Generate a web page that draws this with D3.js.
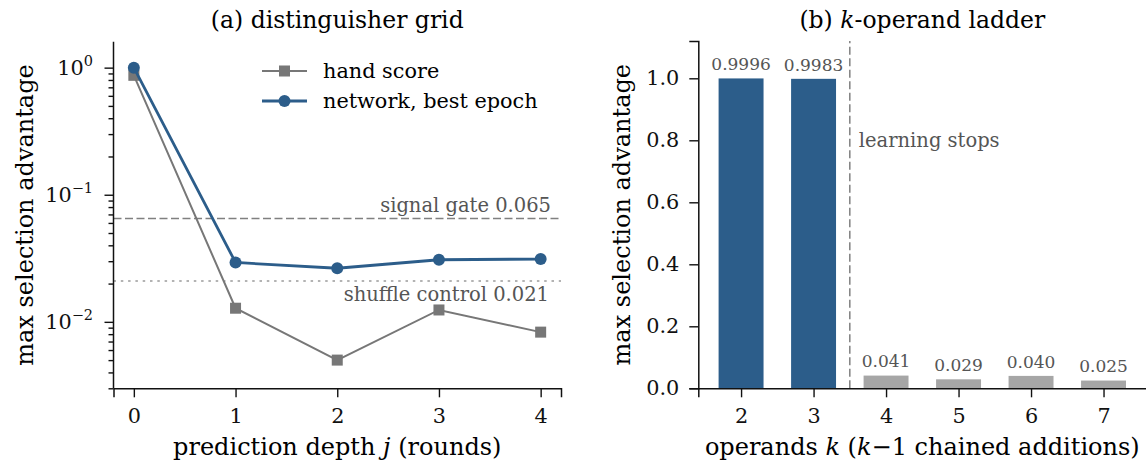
<!DOCTYPE html>
<html><head><meta charset="utf-8">
<script src="https://cdn.jsdelivr.net/npm/d3@7"></script>
<style>body{margin:0;background:#fff}svg{display:block}text{font-family:"DejaVu Serif",serif}</style>
</head><body><svg id="c" width="1146" height="461"></svg>
<script>
// ---- data ----
const depths = [0, 1, 2, 3, 4];
const handScore = [0.87, 0.0128, 0.0050, 0.0124, 0.0083];
const networkBest = [0.9996, 0.0293, 0.0264, 0.0308, 0.0312];
const signalGate = 0.065;
const shuffleControl = 0.021;
const logTickValues = [1e-2, 1e-1, 1];
const logTickExps = ["−2", "−1", "0"];

const operands = [2, 3, 4, 5, 6, 7];
const ladderValues = [0.9996, 0.9983, 0.041, 0.029, 0.040, 0.025];
const ladderLabels = ["0.9996", "0.9983", "0.041", "0.029", "0.040", "0.025"];
const learnedUpTo = 3;
const barTicks = [0, 0.2, 0.4, 0.6, 0.8, 1.0];

const BLUE = "#2c5d8a", GRAY = "#777777", LIGHT = "#a6a6a6", ANN = "#555555";
const FT = 23.5, FL = 24, FK = 20.8, FLEG = 20.8, FA = 19.5, FB = 17;
const svg = d3.select("#c");

// ---------------- panel (a) ----------------
const ax = {l: 113.5, r: 561, t: 41.7, b: 388.3};
const xa = d3.scaleLinear().domain([-0.2, 4.2]).range([ax.l, ax.r]);
const ya = d3.scaleLog().domain([0.003, 1.6]).range([ax.b, ax.t]);
const ga = svg.append("g");

// reference lines
ga.append("line").attr("x1", ax.l).attr("x2", ax.r).attr("y1", ya(signalGate)).attr("y2", ya(signalGate))
  .attr("stroke", "#808080").attr("stroke-width", 1.5).attr("stroke-dasharray", "8,3.5");
ga.append("line").attr("x1", ax.l).attr("x2", ax.r).attr("y1", ya(shuffleControl)).attr("y2", ya(shuffleControl))
  .attr("stroke", "#9a9a9a").attr("stroke-width", 1.5).attr("stroke-dasharray", "2.5,4.8");
ga.append("text").attr("x", 551).attr("y", ya(signalGate) - 7).attr("text-anchor", "end")
  .attr("font-size", FA).attr("fill", ANN).text("signal gate 0.065");
ga.append("text").attr("x", 549).attr("y", ya(shuffleControl) + 20).attr("text-anchor", "end")
  .attr("font-size", FA).attr("fill", ANN).text("shuffle control 0.021");

// lines
const lineA = d3.line().x((d, i) => xa(depths[i])).y(d => ya(d));
ga.append("path").datum(handScore).attr("d", lineA).attr("fill", "none").attr("stroke", GRAY).attr("stroke-width", 2);
ga.selectAll(".sq").data(handScore).join("rect").attr("x", (d, i) => xa(depths[i]) - 5.5).attr("y", d => ya(d) - 5.5)
  .attr("width", 11).attr("height", 11).attr("fill", GRAY);
ga.append("path").datum(networkBest).attr("d", lineA).attr("fill", "none").attr("stroke", BLUE).attr("stroke-width", 2.8);
ga.selectAll(".ci").data(networkBest).join("circle").attr("cx", (d, i) => xa(depths[i])).attr("cy", d => ya(d))
  .attr("r", 6).attr("fill", BLUE);

// axes
const xAxisA = d3.axisBottom(xa).tickValues(depths).tickFormat(d3.format("d")).tickSizeOuter(0).tickSize(9).tickPadding(11);
ga.append("g").attr("transform", `translate(0,${ax.b})`).call(xAxisA);
const minor = [];
[0.001, 0.01, 0.1, 1].forEach(dec => { for (let m = 2; m <= 9; m++) { const v = dec * m; if (v >= 0.003 && v <= 1.6) minor.push(v); } });
const gya = ga.append("g").attr("transform", `translate(${ax.l},0)`);
gya.call(d3.axisLeft(ya).tickValues(minor).tickFormat("").tickSize(5).tickSizeOuter(0));
gya.selectAll(".domain").remove();
const gyaM = ga.append("g").attr("transform", `translate(${ax.l},0)`).call(d3.axisLeft(ya).tickValues(logTickValues).tickFormat("").tickSize(9).tickSizeOuter(0));
gyaM.select(".domain").attr("d", `M0,${ax.b}V${ax.t}`);
logTickValues.forEach((v, i) => {
  const t = ga.append("text").attr("x", 93).attr("y", ya(v) + 7.5).attr("text-anchor", "end").attr("font-size", FK).attr("fill", "#111");
  t.append("tspan").text("10");
  t.append("tspan").attr("font-size", 14.5).attr("dy", -9.5).text(logTickExps[i]);
});

// labels
ga.append("text").attr("x", (ax.l + ax.r) / 2).attr("y", 28).attr("text-anchor", "middle").attr("font-size", FT).text("(a) distinguisher grid");
const xl = ga.append("text").attr("x", (ax.l + ax.r) / 2).attr("y", 455).attr("text-anchor", "middle").attr("font-size", FL);
xl.append("tspan").text("prediction depth ");
xl.append("tspan").attr("font-style", "italic").text("j");
xl.append("tspan").text(" (rounds)");
ga.append("text").attr("transform", `translate(33,${(ax.t + ax.b) / 2}) rotate(-90)`).attr("text-anchor", "middle")
  .attr("font-size", FL).text("max selection advantage");

// legend
const legend = [{name: "hand score", c: GRAY, w: 2, shape: "sq"}, {name: "network, best epoch", c: BLUE, w: 2.8, shape: "ci"}];
legend.forEach((d, i) => {
  const y = 71 + i * 30;
  ga.append("line").attr("x1", 262).attr("x2", 307).attr("y1", y).attr("y2", y).attr("stroke", d.c).attr("stroke-width", d.w);
  if (d.shape === "sq") ga.append("rect").attr("x", 284.5 - 5.5).attr("y", y - 5.5).attr("width", 11).attr("height", 11).attr("fill", d.c);
  else ga.append("circle").attr("cx", 284.5).attr("cy", y).attr("r", 6).attr("fill", d.c);
  ga.append("text").attr("x", 323).attr("y", y + 7).attr("font-size", FLEG).text(d.name);
});

// ---------------- panel (b) ----------------
const bx = {l: 698.3, r: 1146.3, t: 41.1, b: 388.3};
const xb = d3.scaleLinear().domain([1.41, 7.59]).range([bx.l, bx.r]);
const yb = d3.scaleLinear().domain([0, 1.12]).range([bx.b, bx.t]);
const gb = svg.append("g");
const bw = 0.62;
gb.selectAll(".bar").data(ladderValues).join("rect")
  .attr("x", (d, i) => xb(operands[i] - bw / 2)).attr("width", xb(bw) - xb(0))
  .attr("y", d => yb(d)).attr("height", d => yb(0) - yb(d))
  .attr("fill", (d, i) => operands[i] <= learnedUpTo ? BLUE : LIGHT);
gb.selectAll(".bl").data(ladderValues).join("text")
  .attr("x", (d, i) => xb(operands[i])).attr("y", d => yb(d) - 8.3).attr("text-anchor", "middle")
  .attr("font-size", FB).attr("fill", ANN).text((d, i) => ladderLabels[i]);
gb.append("line").attr("x1", xb(learnedUpTo + 0.5)).attr("x2", xb(learnedUpTo + 0.5)).attr("y1", bx.b).attr("y2", bx.t)
  .attr("stroke", "#808080").attr("stroke-width", 1.5).attr("stroke-dasharray", "8,3.5");
gb.append("text").attr("x", xb(learnedUpTo + 0.5) + 9).attr("y", yb(0.8) + 7).attr("font-size", FA).attr("fill", ANN).text("learning stops");

gb.append("g").attr("transform", `translate(0,${bx.b})`)
  .call(d3.axisBottom(xb).tickValues(operands).tickFormat(d3.format("d")).tickSizeOuter(0).tickSize(9).tickPadding(11));
gb.append("g").attr("transform", `translate(${bx.l},0)`)
  .call(d3.axisLeft(yb).tickValues(barTicks).tickFormat(d3.format(".1f")).tickSizeOuter(0).tickSize(9).tickPadding(10));

gb.append("text").attr("x", (bx.l + bx.r) / 2).attr("y", 28).attr("text-anchor", "middle").attr("font-size", FT)
  .call(t => { t.append("tspan").text("(b) "); t.append("tspan").attr("font-style", "italic").text("k"); t.append("tspan").text("-operand ladder"); });
gb.append("text").attr("x", (bx.l + bx.r) / 2).attr("y", 455).attr("text-anchor", "middle").attr("font-size", FL)
  .call(t => { t.append("tspan").text("operands "); t.append("tspan").attr("font-style", "italic").text("k");
    t.append("tspan").text(" ("); t.append("tspan").attr("font-style", "italic").text("k");
    t.append("tspan").text("−1 chained additions)"); });
gb.append("text").attr("transform", `translate(630,${(bx.t + bx.b) / 2}) rotate(-90)`).attr("text-anchor", "middle")
  .attr("font-size", FL).text("max selection advantage");

// axis styling
svg.selectAll(".domain").attr("stroke", "#111").attr("stroke-width", 1.5);
svg.selectAll(".tick line").attr("stroke", "#111").attr("stroke-width", 1.4);
svg.selectAll(".tick text").attr("font-size", FK).attr("fill", "#111").style("font-family", "DejaVu Serif");
</script></body></html>
